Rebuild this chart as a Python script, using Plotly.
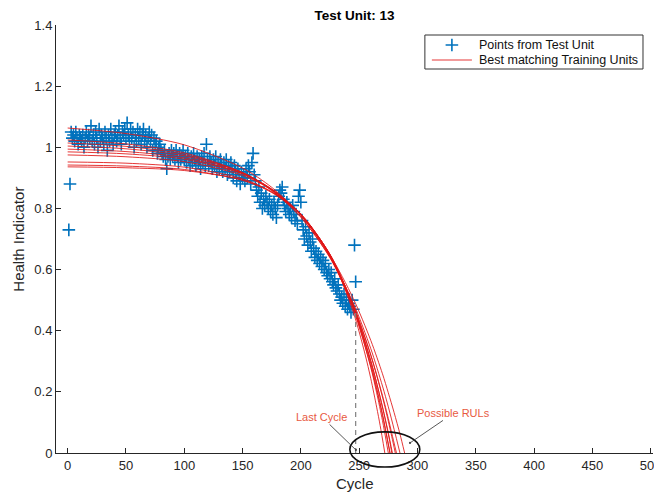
import plotly.graph_objects as go

# ---------------- data ----------------
cycles = list(range(1, 248))
health_indicator = [
    0.73, 0.88, 1.05, 1.03, 1.04, 1.02, 1.05, 1.03, 1.01, 1.04,
    1.03, 1.02, 1.04, 1.00, 1.03, 1.05, 1.02, 1.04, 1.03, 1.07,
    1.02, 1.04, 1.01, 1.05, 1.03, 1.00, 1.06, 1.02, 1.04, 1.03,
    1.01, 1.05, 1.03, 0.99, 1.04, 1.02, 1.06, 1.03, 1.01, 1.04,
    1.05, 1.02, 1.04, 1.07, 1.03, 1.01, 1.05, 1.04, 1.06, 1.03,
    1.08, 1.04, 1.02, 1.06, 1.03, 1.05, 1.00, 1.04, 1.02, 1.06,
    1.03, 1.05, 1.01, 1.04, 1.06, 1.02, 1.04, 1.00, 1.03, 1.05,
    1.02, 1.04, 0.99, 1.03, 1.01, 1.02, 0.98, 1.00, 1.01, 0.99,
    0.98, 0.97, 0.99, 0.96, 0.93, 0.97, 0.98, 0.96, 0.99, 0.97,
    0.98, 0.96, 0.99, 0.97, 0.95, 0.98, 0.96, 0.97, 0.99, 0.96,
    0.97, 0.95, 0.98, 0.96, 0.94, 0.97, 0.95, 0.98, 0.96, 0.94,
    0.97, 0.95, 0.96, 0.93, 0.97, 0.95, 0.98, 0.94, 1.01, 0.96,
    0.94, 0.97, 0.95, 0.93, 0.96, 0.94, 0.97, 0.92, 0.95, 0.93,
    0.96, 0.94, 0.92, 0.95, 0.93, 0.96, 0.91, 0.94, 0.92, 0.95,
    0.93, 0.90, 0.94, 0.92, 0.89, 0.93, 0.91, 0.88, 0.92, 0.90,
    0.91, 0.89, 0.93, 0.90, 0.94, 0.92, 0.88, 0.95, 0.98, 0.91,
    0.89, 0.86, 0.84, 0.87, 0.82, 0.85, 0.80, 0.83, 0.81, 0.84,
    0.82, 0.80, 0.83, 0.79, 0.81, 0.78, 0.82, 0.80, 0.77, 0.81,
    0.84, 0.86, 0.85, 0.87, 0.83, 0.81, 0.79, 0.82, 0.80, 0.78,
    0.80, 0.77, 0.81, 0.79, 0.76, 0.78, 0.75, 0.84, 0.86, 0.82,
    0.76, 0.73, 0.70, 0.74, 0.71, 0.68, 0.72, 0.69, 0.66, 0.70,
    0.67, 0.64, 0.66, 0.63, 0.65, 0.62, 0.64, 0.61, 0.63, 0.60,
    0.62, 0.59, 0.58, 0.60, 0.57, 0.59, 0.56, 0.55, 0.57, 0.54,
    0.53, 0.55, 0.52, 0.50, 0.51, 0.49, 0.52, 0.48, 0.50, 0.47,
    0.49, 0.48, 0.46, 0.50, 0.47, 0.68, 0.56,
]

# best matching training unit curves (cycle, health indicator)
BASE = [0, 50, 100, 150, 175, 200, 225, 245]
curve_cycles = [
    BASE + [260, 270, 275, 280, 285, 289],
    BASE + [260, 270, 275, 280, 285],
    BASE + [260, 270, 275, 278, 282],
    BASE + [260, 270, 275, 278, 281],
    BASE + [260, 270, 275, 278.5],
    BASE + [260, 270, 275, 278],
    BASE + [260, 265, 270, 276.4],
    BASE + [260, 265, 270, 276.5],
    BASE + [260, 265, 270, 275],
    BASE + [255, 260, 265, 268, 272],
]
curve_values = [
    [1.063, 1.045, 1.008, 0.932, 0.869, 0.778, 0.648, 0.505, 0.368, 0.259, 0.197, 0.132, 0.062, 0],
    [1.024, 1.011, 0.982, 0.917, 0.858, 0.771, 0.640, 0.490, 0.341, 0.219, 0.151, 0.077, 0],
    [1.014, 1.003, 0.977, 0.917, 0.860, 0.772, 0.638, 0.480, 0.320, 0.188, 0.113, 0.064, 0],
    [1.004, 0.995, 0.972, 0.917, 0.863, 0.778, 0.645, 0.485, 0.320, 0.183, 0.104, 0.053, 0],
    [0.994, 0.986, 0.966, 0.914, 0.862, 0.778, 0.642, 0.475, 0.300, 0.151, 0.066, 0],
    [0.985, 0.9785, 0.961, 0.913, 0.863, 0.782, 0.648, 0.480, 0.302, 0.150, 0.062, 0],
    [0.975, 0.969, 0.953, 0.908, 0.860, 0.779, 0.643, 0.470, 0.283, 0.207, 0.123, 0],
    [0.952, 0.948, 0.935, 0.897, 0.854, 0.780, 0.650, 0.480, 0.292, 0.214, 0.128, 0],
    [0.942, 0.9385, 0.9275, 0.892, 0.852, 0.779, 0.649, 0.475, 0.2795, 0.197, 0.106, 0],
    [0.936, 0.933, 0.924, 0.893, 0.854, 0.782, 0.648, 0.460, 0.324, 0.243, 0.150, 0.090, 0],
]

last_cycle = 247
last_cycle_hi = 0.47
rul_region_cycles = [242, 302]
rul_region_hi = [-0.046, 0.069]

x_ticks = [0, 50, 100, 150, 200, 250, 300, 350, 400, 450, 500]
y_ticks = [0, 0.2, 0.4, 0.6, 0.8, 1.0, 1.2, 1.4]
y_tick_text = ["0", "0.2", "0.4", "0.6", "0.8", "1", "1.2", "1.4"]
x_range = [-10, 502]
y_range = [0, 1.4]

legend_labels = ["Points from Test Unit", "Best matching Training Units"]

# ---------------- styling ----------------
BLUE = "#0072BD"
RED = "rgba(225,20,20,0.85)"
ANNOT = "#E8593F"
AXIS = "#262626"
FONT = "Liberation Sans, Arial, Helvetica, sans-serif"

# page body has an 8px offset; plot area in screen px: x 56..653, y 25..453
OFF = 8
W, H = 662, 493
PL, PR, PT, PB = 56.3, 653, 25, 453
PW, PH = PR - PL, PB - PT


def xp(v):
    return (v - x_range[0]) / (x_range[1] - x_range[0])


def yp(v):
    return (v - y_range[0]) / (y_range[1] - y_range[0])


def sx(px):  # screen px -> paper x
    return (px - PL) / PW


def sy(py):  # screen px -> paper y
    return (PB - py) / PH


def paper_to_data_x(p):
    return x_range[0] + p * (x_range[1] - x_range[0])


def paper_to_data_y(p):
    return y_range[0] + p * (y_range[1] - y_range[0])


fig = go.Figure()

fig.add_trace(go.Scatter(
    x=cycles, y=health_indicator, mode="markers",
    name=legend_labels[0], showlegend=False,
    marker=dict(symbol="cross-thin", size=9, color=BLUE,
                line=dict(width=1.6, color=BLUE)),
))

for i, (cx, cy) in enumerate(zip(curve_cycles, curve_values)):
    fig.add_trace(go.Scatter(
        x=cx, y=cy, mode="lines", name=legend_labels[1], showlegend=False,
        line=dict(color=RED, width=1, shape="spline", smoothing=0.8),
    ))

fig.add_trace(go.Scatter(
    x=[last_cycle, last_cycle], y=[0, last_cycle_hi], mode="lines",
    showlegend=False, hoverinfo="skip",
    line=dict(color="#808080", width=1.2, dash="5px,4px"),
))

# ellipse around possible RULs (paper coords so it is not clipped at the axis)
fig.add_shape(type="circle", xref="paper", yref="paper",
              x0=xp(rul_region_cycles[0]), x1=xp(rul_region_cycles[1]),
              y0=yp(rul_region_hi[0]), y1=yp(rul_region_hi[1]),
              line=dict(color="#111111", width=1.6), layer="above")

fig.add_annotation(x=247.2, y=0.01, xref="x", yref="y",
                   ax=218, ay=0.118, axref="x", ayref="y",
                   text="Last Cycle", showarrow=True, arrowhead=6,
                   arrowsize=0.6, arrowwidth=0.9, arrowcolor="#444444",
                   font=dict(family=FONT, size=11, color=ANNOT))
fig.add_annotation(x=293.6, y=0.033, xref="x", yref="y",
                   ax=331.3, ay=0.131, axref="x", ayref="y",
                   text="Possible RULs", showarrow=True, arrowhead=6,
                   arrowsize=0.6, arrowwidth=0.9, arrowcolor="#444444",
                   font=dict(family=FONT, size=11, color=ANNOT))

# axis titles
fig.add_annotation(text="Cycle", xref="paper", yref="paper", x=0.5, y=sy(483),
                   xanchor="center", yanchor="middle", showarrow=False,
                   font=dict(family=FONT, size=15, color=AXIS))
fig.add_annotation(text="Health Indicator", xref="paper", yref="paper",
                   x=sx(18), y=0.5, textangle=-90,
                   xanchor="center", yanchor="middle", showarrow=False,
                   font=dict(family=FONT, size=15, color=AXIS))

# legend drawn as box + sample marks + labels
fig.add_shape(type="rect", xref="paper", yref="paper",
              x0=sx(425), x1=sx(643), y0=sy(69), y1=sy(35),
              line=dict(color="#333333", width=1), fillcolor="white", layer="below")
fig.add_shape(type="line", xref="paper", yref="paper",
              x0=sx(432), x1=sx(472), y0=sy(60), y1=sy(60),
              line=dict(color=RED, width=1), layer="above")
fig.add_trace(go.Scatter(
    x=[paper_to_data_x(sx(452))], y=[paper_to_data_y(sy(45))], mode="markers",
    showlegend=False, hoverinfo="skip", cliponaxis=False,
    marker=dict(symbol="cross-thin", size=9, color=BLUE,
                line=dict(width=1.6, color=BLUE)),
))
for label, ypx in zip(legend_labels, [45, 60]):
    fig.add_annotation(text=label, xref="paper", yref="paper",
                       x=sx(477), y=sy(ypx), xanchor="left", yanchor="middle",
                       showarrow=False,
                       font=dict(family=FONT, size=12.5, color="#111111"))

fig.update_layout(
    width=W, height=H,
    margin=dict(l=PL - OFF, r=W + OFF - PR, t=PT - OFF, b=H + OFF - PB, autoexpand=False),
    paper_bgcolor="white", plot_bgcolor="white",
    font=dict(family=FONT, size=13, color=AXIS),
    title=dict(text="<b>Test Unit: 13</b>", x=0.5, xref="paper", xanchor="center",
               y=1 - (15 - OFF) / H, yanchor="middle", yref="container",
               font=dict(family=FONT, size=13.5, color="black")),
    showlegend=False,
)

fig.update_xaxes(range=x_range, tickvals=x_ticks, ticks="inside", ticklen=5,
                 showline=True, linecolor=AXIS, linewidth=1, tickcolor=AXIS,
                 showgrid=False, zeroline=False, mirror=False, automargin=False,
                 tickfont=dict(size=13, color=AXIS))
fig.update_yaxes(range=y_range, tickvals=y_ticks, ticktext=y_tick_text,
                 ticks="inside", ticklen=5,
                 showline=True, linecolor=AXIS, linewidth=1, tickcolor=AXIS,
                 showgrid=False, zeroline=False, mirror=False, automargin=False,
                 tickfont=dict(size=13, color=AXIS))

fig.write_html("out.html")
